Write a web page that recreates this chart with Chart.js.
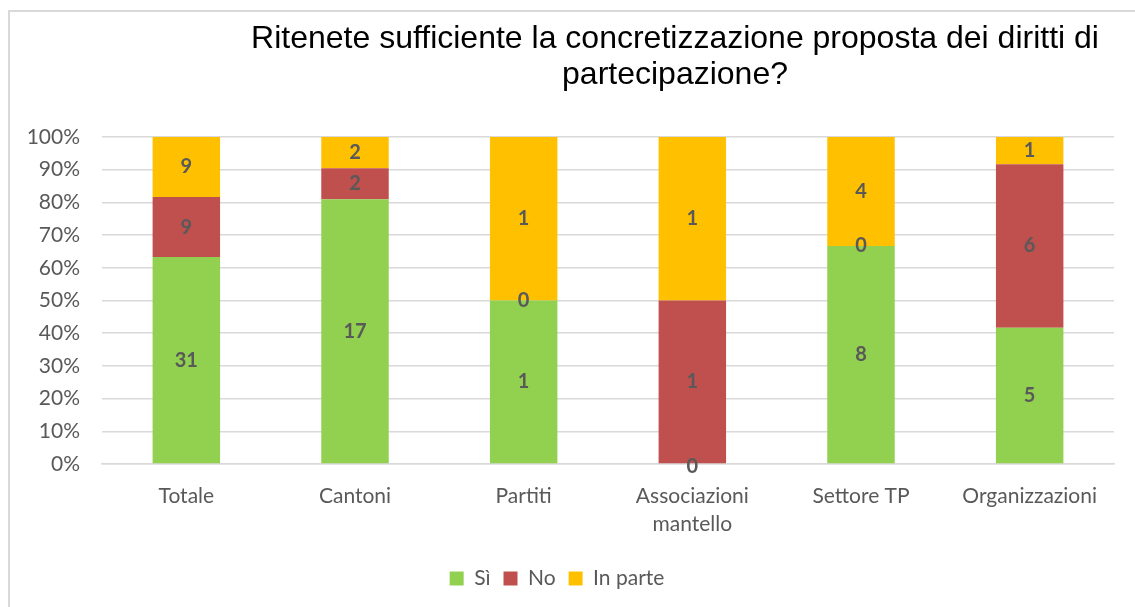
<!DOCTYPE html>
<html>
<head>
<meta charset="utf-8">
<script src="https://cdn.jsdelivr.net/npm/chart.js@4"></script>
<style>
  html, body { margin: 0; padding: 0; background: #fff; }
  #wrap { width: 1135px; height: 607px; position: relative; }
</style>
</head>
<body>
<div id="wrap"><canvas id="graf" width="1135" height="607"></canvas></div>
<script>
const categorie = ['Totale', 'Cantoni', 'Partiti', ['Associazioni', 'mantello'], 'Settore TP', 'Organizzazioni'];
const si = [31, 17, 1, 0, 8, 5];
const no = [9, 2, 0, 1, 0, 6];
const inParte = [9, 2, 1, 1, 4, 1];
const titolo = ['Ritenete sufficiente la concretizzazione proposta dei diritti di', 'partecipazione?'];

const grigio = '#595959';
const fontBase = 'Lato, Calibri, sans-serif';

// totale per categoria, per passare da conteggi a percentuali
const totali = si.map((v, i) => v + no[i] + inParte[i]);
const perc = (arr) => arr.map((v, i) => v / totali[i] * 100);

const serie = [
  { label: 'Sì', conteggi: si, colore: '#92D050' },
  { label: 'No', conteggi: no, colore: '#C0504D' },
  { label: 'In parte', conteggi: inParte, colore: '#FFC000' }
];

// bordo esterno e titolo (il titolo non è centrato sul canvas)
const cornice = {
  id: 'cornice',
  beforeDraw(chart) {
    const c = chart.ctx;
    c.save();
    c.fillStyle = '#fff';
    c.fillRect(0, 0, chart.width, chart.height);
    c.strokeStyle = '#d9d9d9';
    c.lineWidth = 2;
    c.beginPath();
    c.moveTo(9, chart.height + 5);
    c.lineTo(9, 11);
    c.lineTo(chart.width + 5, 11);
    c.stroke();
    c.restore();
  },
  afterDraw(chart) {
    const c = chart.ctx;
    c.save();
    c.fillStyle = '#000';
    c.font = '32px "Liberation Sans", Arial, sans-serif';
    c.textAlign = 'center';
    c.textBaseline = 'middle';
    c.fillText(titolo[0], 675, 39);
    c.fillText(titolo[1], 675, 75);
    c.restore();
  }
};

// etichette con i conteggi al centro di ogni segmento
const etichette = {
  id: 'etichette',
  afterDatasetsDraw(chart) {
    const c = chart.ctx;
    c.save();
    c.fillStyle = grigio;
    c.font = 'bold 20px ' + fontBase;
    c.textAlign = 'center';
    c.textBaseline = 'middle';
    chart.data.datasets.forEach((ds, di) => {
      chart.getDatasetMeta(di).data.forEach((bar, i) => {
        const p = bar.getProps(['x', 'y', 'base'], true);
        let y = (p.y + p.base) / 2;
        if (ds.conteggi[i] === 0 && p.base >= chart.chartArea.bottom - 1) y += 3;
        c.fillText(String(ds.conteggi[i]), p.x, y);
      });
    });
    c.restore();
  }
};

let ctx = document.getElementById('graf').getContext('2d');

let grafico = new Chart(ctx, {
  type: 'bar',
  data: {
    labels: categorie,
    datasets: serie.map(s => ({
      label: s.label,
      data: perc(s.conteggi),
      conteggi: s.conteggi,
      backgroundColor: s.colore,
      borderWidth: 0,
      barPercentage: 0.4,
      categoryPercentage: 1
    }))
  },
  options: {
    responsive: false,
    animation: false,
    layout: {
      padding: { top: 137, right: 21, left: 0, bottom: 8 }
    },
    plugins: {
      legend: {
        position: 'bottom',
        labels: {
          boxWidth: 14,
          boxHeight: 14,
          padding: 13,
          color: grigio,
          font: { size: 21, family: fontBase }
        }
      },
      title: { display: false },
      tooltip: { enabled: false }
    },
    scales: {
      x: {
        stacked: true,
        grid: { display: false },
        border: { display: true, color: '#d9d9d9', width: 1.5 },
        ticks: {
          color: grigio,
          font: { size: 21, family: fontBase, lineHeight: 1.3 },
          maxRotation: 0,
          padding: 11
        },
        afterFit(scale) { scale.height = 91; }
      },
      y: {
        stacked: true,
        min: 0,
        max: 100,
        grid: { color: '#d9d9d9', lineWidth: 1.5, drawTicks: false },
        border: { display: false },
        ticks: {
          stepSize: 10,
          color: grigio,
          padding: 22,
          font: { size: 21, family: fontBase },
          callback: (v) => v + '%'
        },
        afterFit(scale) { scale.width = 102; }
      }
    }
  },
  plugins: [cornice, etichette]
});
</script>
</body>
</html>
